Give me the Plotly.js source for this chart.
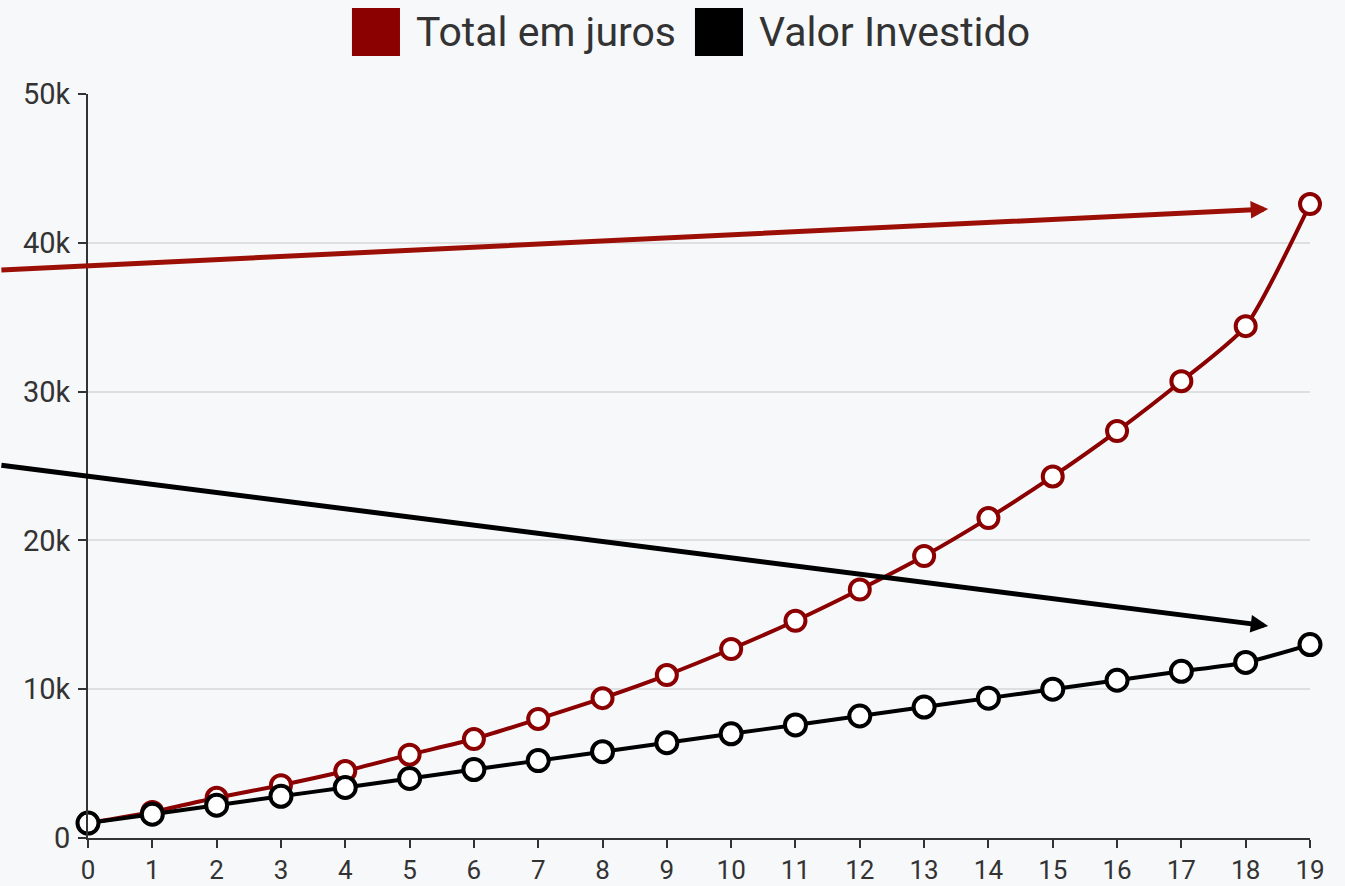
<!DOCTYPE html>
<html>
<head>
<meta charset="utf-8">
<script src="https://cdn.plot.ly/plotly-3.0.1.min.js"></script>
<style>
  html, body { margin: 0; padding: 0; background: #f7f8fa; }
  #chart { width: 1345px; height: 886px; }
</style>
</head>
<body>
<div id="chart"></div>
<script>
// ---- data ----
const years = [0,1,2,3,4,5,6,7,8,9,10,11,12,13,14,15,16,17,18,19];
const totalJuros = [1000,1750,2700,3550,4500,5600,6650,8000,9400,10950,12700,14600,16700,18950,21500,24300,27350,30700,34400,42600];
const valorInvestido = [1000,1600,2200,2800,3400,4000,4600,5200,5800,6400,7000,7600,8200,8800,9400,10000,10600,11200,11800,13000];
const seriesNames = ["Total em juros", "Valor Investido"];
const seriesColors = ["#8b0000", "#000000"];
// arrow annotations: [tail x, tail y, head x, head y]
const redArrow = [-1.37, 38170, 18.35, 42270];
const blackArrow = [-1.37, 25070, 18.35, 14250];

const traces = [
  {
    type: 'scatter', mode: 'lines+markers', name: seriesNames[0],
    x: years, y: totalJuros, cliponaxis: false, showlegend: false,
    line: { color: seriesColors[0], width: 4, shape: 'spline', smoothing: 0.6 },
    marker: { symbol: 'circle', size: 20, color: '#ffffff', line: { color: seriesColors[0], width: 4 } }
  },
  {
    type: 'scatter', mode: 'lines+markers', name: seriesNames[1],
    x: years, y: valorInvestido, cliponaxis: false, showlegend: false,
    line: { color: seriesColors[1], width: 4, shape: 'spline', smoothing: 0.6 },
    marker: { symbol: 'circle', size: 21, color: '#ffffff', line: { color: seriesColors[1], width: 4 } }
  }
];

function arrowAnn(a, color) {
  return {
    x: a[2], y: a[3], xref: 'x', yref: 'y',
    ax: a[0], ay: a[1], axref: 'x', ayref: 'y',
    text: '', showarrow: true, arrowhead: 2, arrowsize: 0.7, arrowwidth: 5,
    arrowcolor: color, standoff: 0, startstandoff: 0
  };
}

const legendFont = { family: 'Roboto, sans-serif', size: 41, color: '#333333' };

const layout = {
  width: 1345, height: 886,
  paper_bgcolor: '#f7f8fa', plot_bgcolor: '#f7f8fa',
  margin: { l: 88, r: 35, t: 94, b: 48 },
  showlegend: false,
  font: { family: 'Roboto, sans-serif', color: '#333333' },
  xaxis: {
    range: [0, 19], tickmode: 'array', tickvals: years, ticktext: years.map(String),
    showgrid: false, zeroline: false,
    showline: true, linecolor: '#333333', linewidth: 2,
    ticks: 'outside', ticklen: 8, tickwidth: 2, tickcolor: '#333333',
    tickfont: { family: 'Roboto, sans-serif', size: 26, color: '#333333' }
  },
  yaxis: {
    range: [0, 50000], dtick: 10000, tickformat: '~s',
    showgrid: true, gridcolor: '#dedfe1', gridwidth: 2, zeroline: false,
    showline: true, linecolor: '#333333', linewidth: 2,
    ticks: 'outside', ticklen: 8, tickwidth: 2, tickcolor: '#333333',
    ticklabelstandoff: 2,
    tickfont: { family: 'Roboto, sans-serif', size: 29, color: '#333333' }
  },
  shapes: [
    { type: 'rect', xref: 'paper', yref: 'paper', x0: 0.2160, x1: 0.2553, y0: 1.0511, y1: 1.1156,
      fillcolor: seriesColors[0], line: { width: 0 } },
    { type: 'rect', xref: 'paper', yref: 'paper', x0: 0.4967, x1: 0.5360, y0: 1.0511, y1: 1.1156,
      fillcolor: seriesColors[1], line: { width: 0 } }
  ],
  annotations: [
    { text: seriesNames[0], xref: 'paper', yref: 'paper', x: 0.2668, y: 1.0833,
      xanchor: 'left', yanchor: 'middle', showarrow: false, font: legendFont },
    { text: seriesNames[1], xref: 'paper', yref: 'paper', x: 0.5475, y: 1.0833,
      xanchor: 'left', yanchor: 'middle', showarrow: false, font: legendFont },
    arrowAnn(redArrow, '#9b0f06'),
    arrowAnn(blackArrow, '#000000')
  ]
};

Plotly.newPlot('chart', traces, layout, { displayModeBar: false, staticPlot: true });
</script>
</body>
</html>
